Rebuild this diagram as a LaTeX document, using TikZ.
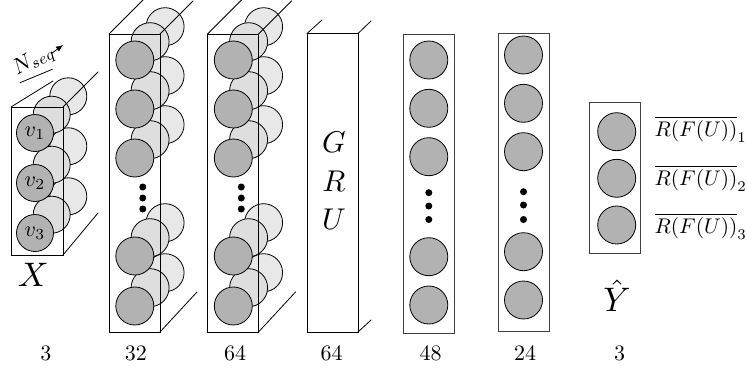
\documentclass[tikz,border=0pt]{standalone}
\usetikzlibrary{arrows.meta}
\tikzset{
  edgeline/.style={line width=0.8pt, line cap=round},
  frontbox/.style={draw, line width=0.8pt, inner sep=0pt, outer sep=0pt},
  graybox/.style={draw=black!75, line width=0.8pt, inner sep=0pt, outer sep=0pt},
  darkc/.style={circle, draw, fill=black!30, minimum size=38pt, inner sep=0pt, line width=0.8pt},
  midc/.style={circle, draw, fill=black!13, minimum size=38pt, inner sep=0pt, line width=0.8pt},
  backc/.style={circle, draw, fill=black!9, minimum size=38pt, inner sep=0pt, line width=0.8pt},
  dotc/.style={circle, fill=black, minimum size=7pt, inner sep=0pt},
  numlabel/.style={anchor=base, inner sep=0pt},
  biglabel/.style={anchor=base, inner sep=0pt},
  grulabel/.style={anchor=base, inner sep=0pt},
  outlabel/.style={anchor=base west, inner sep=0pt},
  vlabel/.style={inner sep=0pt},
}
\begin{document}
\begin{tikzpicture}[x=1pt,y=-1pt]
\useasboundingbox (0,0) rectangle (747,367);

% ---------------- X layer ----------------
\node[frontbox, draw=none, minimum width=52pt, minimum height=148pt] (fX) at (37,181) {};
\draw[edgeline] (fX.north west) -- ++(42,-26);
\foreach \y [count=\i] in {133,183,233} {
  \node[backc, minimum size=37pt] (bX\i) at (35+33.3,\y-36.7) {};
}
\foreach \y [count=\i] in {133,183,233} {
  \node[midc, minimum size=37pt] (mX\i) at (35+16.7,\y-18.3) {};
}
\node[frontbox, minimum width=52pt, minimum height=148pt] (fXb) at (37,181) {};
\draw[edgeline] (fXb.north east) -- ++(35,-35);
\draw[edgeline] (fXb.south east) -- ++(35,-42);
\node[darkc, minimum size=37pt] (v1) at (35,133) {};
\node[darkc, minimum size=37pt] (v2) at (35,183) {};
\node[darkc, minimum size=37pt] (v3) at (35,233) {};
\node[vlabel] (tv1) at (v1.center) {\scalebox{2.2}{$v_1$}};
\node[vlabel] (tv2) at (v2.center) {\scalebox{2.2}{$v_2$}};
\node[vlabel] (tv3) at (v3.center) {\scalebox{2.2}{$v_3$}};
\node[biglabel] (lX) at (33.3,286.7) {\scalebox{3.4}{$X$}};

% N_seq arrow
\node[rotate=30, inner sep=0pt] (nseq) at (34,61) {\scalebox{2.2}{$N_{seq}$}};
\coordinate (nsa) at (51.5,53.5);
\coordinate (nsb) at (63,45);
\draw[line width=0.8pt, -{Latex[length=7pt,width=6pt]}] (nsa) -- (nsb);
\coordinate (nsu1) at (20,82.7);
\coordinate (nsu2) at (52.3,69.3);
\draw[edgeline] (nsu1) -- (nsu2);

% ---------------- 32 and 64 layers ----------------
\foreach \n/\cx in {A/134.8, B/233.3} {
  \foreach \y [count=\i] in {60,109,158,256,306} {
    \node[backc] (b\n\i) at (\cx+30.3,\y-33.3) {};
  }
  \foreach \y [count=\i] in {60,109,158,256,306} {
    \node[midc] (m\n\i) at (\cx+15.3,\y-18.3) {};
  }
  \node[frontbox, minimum width=51pt, minimum height=298pt] (f\n) at (\cx-0.3,183) {};
  \draw[edgeline] (f\n.north west) -- ++(34,-34);
  \draw[edgeline] (f\n.north east) -- ++(33,-33);
  \draw[edgeline] (f\n.south east) -- ++(37,-40);
  \foreach \y [count=\i] in {60,109,158,256,306} {
    \node[darkc] (d\n\i) at (\cx,\y) {};
  }
  \foreach \y [count=\i] in {187,198,209} {
    \node[dotc] (p\n\i) at (\cx+8,\y) {};
  }
}

% ---------------- GRU layer ----------------
\node[frontbox, minimum width=51pt, minimum height=298.5pt] (fG) at (332.5,182.75) {};
\draw[edgeline] (fG.north west) -- ++(15,-13.5);
\draw[edgeline] (fG.north east) -- ++(13,-12.5);
\draw[edgeline] (fG.south east) -- ++(13,-12);
\node[grulabel] (gG) at (334,152.7) {\scalebox{3.0}{$G$}};
\node[grulabel] (gR) at (334,191.7) {\scalebox{3.0}{$R$}};
\node[grulabel] (gU) at (334,229.5) {\scalebox{3.0}{$U$}};

% ---------------- 48 layer ----------------
\node[graybox, minimum width=51pt, minimum height=299pt] (f48) at (428.8,183.8) {};
\foreach \y [count=\i] in {60,108.3,156.7,256.7,305} {
  \node[darkc] (dC\i) at (428.8,\y) {};
}
\foreach \y [count=\i] in {192.7,206,219.5} {
  \node[dotc] (pC\i) at (428.8,\y) {};
}

% ---------------- 24 layer ----------------
\node[graybox, minimum width=50.7pt, minimum height=298.4pt] (f24) at (523.7,182.5) {};
\foreach \y [count=\i] in {55,103.3,151.7,251.7,300} {
  \node[darkc] (dD\i) at (523.5,\y) {};
}
\foreach \y [count=\i] in {191.7,205,219.5} {
  \node[dotc] (pD\i) at (523.5,\y) {};
}

% ---------------- output layer ----------------
\node[graybox, minimum width=51.4pt, minimum height=150.6pt] (fY) at (615,178) {};
\node[darkc] (y1) at (616.7,131.7) {};
\node[darkc] (y2) at (616.7,178.3) {};
\node[darkc] (y3) at (616.7,225) {};
\node[outlabel] (r1) at (654.5,136.5) {\scalebox{2.12}{$\overline{R(F(U))}_1$}};
\node[outlabel] (r2) at (654.5,185) {\scalebox{2.12}{$\overline{R(F(U))}_2$}};
\node[outlabel] (r3) at (654.5,233.3) {\scalebox{2.12}{$\overline{R(F(U))}_3$}};
\node[biglabel] (lY) at (617,311.7) {\scalebox{3.4}{$\hat{Y}$}};

% ---------------- sizes ----------------
\node[numlabel] (n1) at (45.8,360) {\scalebox{2.2}{3}};
\node[numlabel] (n2) at (135.8,360) {\scalebox{2.2}{32}};
\node[numlabel] (n3) at (235,360) {\scalebox{2.2}{64}};
\node[numlabel] (n4) at (331.5,360) {\scalebox{2.2}{64}};
\node[numlabel] (n5) at (430.6,360) {\scalebox{2.2}{48}};
\node[numlabel] (n6) at (525,360) {\scalebox{2.2}{24}};
\node[numlabel] (n7) at (619.6,360) {\scalebox{2.2}{3}};
\end{tikzpicture}
\end{document}
